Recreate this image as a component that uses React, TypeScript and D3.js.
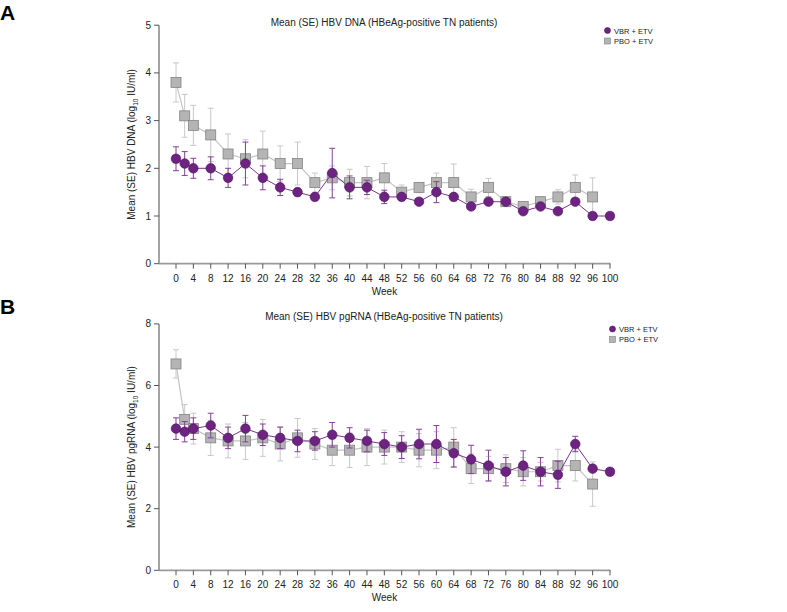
import React from "react";
import * as d3 from "d3";

const weeks = [0, 2, 4, 8, 12, 16, 20, 24, 28, 32, 36, 40, 44, 48, 52, 56, 60, 64, 68, 72, 76, 80, 84, 88, 92, 96, 100];
const xTicks = d3.range(0, 101, 4);

const dnaVbrMean = [2.2, 2.1, 2.0, 2.0, 1.8, 2.1, 1.8, 1.6, 1.5, 1.4, 1.9, 1.6, 1.6, 1.4, 1.4, 1.3, 1.5, 1.4, 1.2, 1.3, 1.3, 1.1, 1.2, 1.1, 1.3, 1.0, 1.0];
const dnaVbrSe = [0.25, 0.25, 0.21, 0.24, 0.2, 0.45, 0.25, 0.17, 0.08, 0.03, 0.52, 0.24, 0.15, 0.14, 0.05, 0.04, 0.22, 0.05, 0.05, 0.05, 0.07, 0.04, 0.05, 0.04, 0.05, 0.02, 0.02];
const dnaPboMean = [3.8, 3.1, 2.9, 2.7, 2.3, 2.2, 2.3, 2.1, 2.1, 1.7, 1.8, 1.7, 1.7, 1.8, 1.5, 1.6, 1.7, 1.7, 1.4, 1.6, 1.3, 1.2, 1.3, 1.4, 1.6, 1.4, null];
const dnaPboSe = [0.41, 0.45, 0.42, 0.56, 0.42, 0.4, 0.48, 0.37, 0.45, 0.2, 0.25, 0.28, 0.34, 0.3, 0.15, 0.1, 0.2, 0.39, 0.16, 0.19, 0.1, 0.05, 0.1, 0.15, 0.26, 0.4, null];

const rnaVbrMean = [4.6, 4.5, 4.6, 4.7, 4.3, 4.6, 4.4, 4.3, 4.2, 4.2, 4.4, 4.3, 4.2, 4.1, 4.0, 4.1, 4.1, 3.8, 3.6, 3.4, 3.2, 3.4, 3.2, 3.1, 4.1, 3.3, 3.2];
const rnaVbrSe = [0.35, 0.33, 0.35, 0.4, 0.35, 0.43, 0.35, 0.35, 0.35, 0.3, 0.4, 0.33, 0.35, 0.37, 0.37, 0.48, 0.6, 0.45, 0.46, 0.5, 0.46, 0.48, 0.46, 0.44, 0.25, 0.05, 0.03];
const rnaPboMean = [6.7, 4.9, 4.6, 4.3, 4.2, 4.2, 4.3, 4.1, 4.3, 4.1, 3.9, 3.9, 4.0, 4.0, 4.0, 3.9, 3.9, 4.0, 3.3, 3.3, 3.3, 3.2, 3.2, 3.4, 3.4, 2.8, null];
const rnaPboSe = [0.46, 0.48, 0.5, 0.57, 0.55, 0.6, 0.6, 0.55, 0.63, 0.5, 0.5, 0.56, 0.6, 0.55, 0.5, 0.54, 0.6, 0.63, 0.48, 0.4, 0.45, 0.46, 0.3, 0.53, 0.5, 0.72, null];

const dnaYTicks = [0, 1, 2, 3, 4, 5];
const rnaYTicks = [0, 2, 4, 6, 8];

const PURPLE = "#6e2382";
const PURPLE_LINE = "#7d3392";
const GRAY_FILL = "#b4b4b4";
const GRAY_STROKE = "#838383";
const GRAY_LINE = "#c4c4c4";
const AXIS = "#9a9a9a";
const FONT = "Liberation Sans, Arial, sans-serif";

type PanelProps = {
  letter: string;
  title: string;
  yName: string;
  yMax: number;
  yTicks: number[];
  y0: number;
  yTop: number;
  vbrMean: (number | null)[];
  vbrSe: (number | null)[];
  pboMean: (number | null)[];
  pboSe: (number | null)[];
  offset: number;
  legX: number;
  legY: number;
};

function Panel(p: PanelProps) {
  const x = d3.scaleLinear().domain([0, 100]).range([176, 610]);
  const y = d3.scaleLinear().domain([0, p.yMax]).range([p.y0, p.yTop]);
  const axisX = 159;
  const cap = 3;

  const series = (mean: (number | null)[], se: (number | null)[]) =>
    weeks.map((w, i) => ({ w, m: mean[i], s: se[i] })).filter((d) => d.m != null) as { w: number; m: number; s: number }[];

  const pbo = series(p.pboMean, p.pboSe);
  const vbr = series(p.vbrMean, p.vbrSe);
  const line = d3.line<{ w: number; m: number }>().x((d) => x(d.w)).y((d) => y(d.m));

  const errBars = (data: { w: number; m: number; s: number }[], color: string) =>
    data.map((d, i) => {
      const cx = x(d.w);
      const t = y(d.m + d.s);
      const b = y(d.m - d.s);
      return (
        <g key={i} stroke={color} strokeWidth={1}>
          <line x1={cx} x2={cx} y1={t} y2={b} />
          <line x1={cx - cap} x2={cx + cap} y1={t} y2={t} />
          <line x1={cx - cap} x2={cx + cap} y1={b} y2={b} />
        </g>
      );
    });

  const midY = (p.y0 + p.yTop) / 2;

  return (
    <g>
      <text x={0} y={p.offset + 20} fontFamily={FONT} fontWeight="bold" fontSize={21} fill="#000">
        {p.letter}
      </text>
      <text x={384} y={p.offset + 26} textAnchor="middle" fontFamily={FONT} fontSize={10} fill="#222">
        {p.title}
      </text>
      {/* legend */}
      <circle cx={p.legX} cy={p.legY} r={3} fill={PURPLE} stroke="#4a1257" strokeWidth={0.6} />
      <text x={p.legX + 6.5} y={p.legY + 3} fontFamily={FONT} fontSize={7.5} fill="#222">VBR + ETV</text>
      <rect x={p.legX - 3} y={p.legY + 7.5} width={6} height={6} fill={GRAY_FILL} stroke={GRAY_STROKE} strokeWidth={0.6} />
      <text x={p.legX + 6.5} y={p.legY + 13} fontFamily={FONT} fontSize={7.5} fill="#222">PBO + ETV</text>

      {/* axes */}
      <line x1={axisX} x2={axisX} y1={p.yTop} y2={p.y0} stroke={AXIS} strokeWidth={1.8} />
      <line x1={axisX} x2={610.5} y1={p.y0} y2={p.y0} stroke={AXIS} strokeWidth={1.8} />
      {p.yTicks.map((t) => (
        <g key={t}>
          <line x1={axisX - 5} x2={axisX} y1={y(t)} y2={y(t)} stroke="#555" strokeWidth={1} />
          <text x={axisX - 8} y={y(t) + 3.5} textAnchor="end" fontFamily={FONT} fontSize={10} fill="#222">
            {t}
          </text>
        </g>
      ))}
      {xTicks.map((t) => (
        <g key={t}>
          <line x1={x(t)} x2={x(t)} y1={p.y0} y2={p.y0 + 5} stroke="#555" strokeWidth={1} />
          <text x={x(t)} y={p.y0 + 18} textAnchor="middle" fontFamily={FONT} fontSize={10} fill="#222">
            {t}
          </text>
        </g>
      ))}
      <text x={384.5} y={p.y0 + 31} textAnchor="middle" fontFamily={FONT} fontSize={10} fill="#222">
        Week
      </text>
      <text
        transform={`translate(135,${midY}) rotate(-90)`}
        textAnchor="middle"
        fontFamily={FONT}
        fontSize={10}
        fill="#222"
      >
        {`Mean (SE) ${p.yName} (log`}
        <tspan fontSize={6.5} dy={3}>10</tspan>
        <tspan dy={-3}> IU/ml)</tspan>
      </text>

      {/* PBO series */}
      <path d={line(pbo) || ""} fill="none" stroke={GRAY_LINE} strokeWidth={1.2} />
      {errBars(pbo, "#c8c8c8")}
      {pbo.map((d, i) => (
        <rect key={i} x={x(d.w) - 5} y={y(d.m) - 5} width={10} height={10} fill={GRAY_FILL} stroke={GRAY_STROKE} strokeWidth={0.8} />
      ))}

      {/* VBR series */}
      <path d={line(vbr) || ""} fill="none" stroke={PURPLE_LINE} strokeWidth={1} />
      {errBars(vbr, "#85409a")}
      {vbr.map((d, i) => (
        <circle key={i} cx={x(d.w)} cy={y(d.m)} r={4.8} fill={PURPLE} stroke="#4a1257" strokeWidth={0.6} />
      ))}
    </g>
  );
}

export default function App() {
  return (
    <svg width={787} height={612} style={{ position: "absolute", left: 0, top: 0, background: "#fff" }}>
      <rect width={787} height={612} fill="#fff" />
      <Panel
        letter="A"
        title="Mean (SE) HBV DNA (HBeAg-positive TN patients)"
        yName="HBV DNA"
        yMax={5}
        yTicks={dnaYTicks}
        y0={263.7}
        yTop={25.2}
        vbrMean={dnaVbrMean}
        vbrSe={dnaVbrSe}
        pboMean={dnaPboMean}
        pboSe={dnaPboSe}
        offset={0}
        legX={607.5}
        legY={30.5}
      />
      <Panel
        letter="B"
        title="Mean (SE) HBV pgRNA (HBeAg-positive TN patients)"
        yName="HBV pgRNA"
        yMax={8}
        yTicks={rnaYTicks}
        y0={570.3}
        yTop={323.9}
        vbrMean={rnaVbrMean}
        vbrSe={rnaVbrSe}
        pboMean={rnaPboMean}
        pboSe={rnaPboSe}
        offset={294}
        legX={612.5}
        legY={329}
      />
    </svg>
  );
}
